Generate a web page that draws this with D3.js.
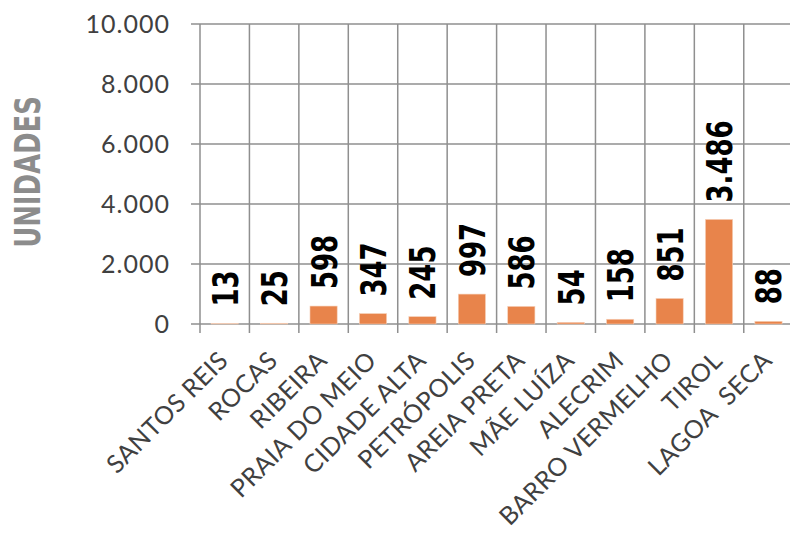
<!DOCTYPE html>
<html>
<head>
<meta charset="utf-8">
<script src="https://cdn.jsdelivr.net/npm/d3@7"></script>
<style>
  html, body { margin: 0; padding: 0; background: #ffffff; }
  svg { display: block; }
</style>
</head>
<body>
<svg id="chart" width="790" height="534"></svg>
<script>
const categories = ["SANTOS REIS", "ROCAS", "RIBEIRA", "PRAIA DO MEIO", "CIDADE ALTA", "PETRÓPOLIS",
                    "AREIA PRETA", "MÃE LUÍZA", "ALECRIM", "BARRO VERMELHO", "TIROL", "LAGOA  SECA"];
const values = [13, 25, 598, 347, 245, 997, 586, 54, 158, 851, 3486, 88];
const yTicks = [0, 2000, 4000, 6000, 8000, 10000];
const yTitle = "UNIDADES";

const svg = d3.select("#chart");
const plotLeft = 200, plotRight = 793.2, plotTop = 24, plotBottom = 324;

const x = d3.scaleBand().domain(categories).range([plotLeft, plotRight]).paddingInner(0).paddingOuter(0);
const y = d3.scaleLinear().domain([0, 10000]).range([plotBottom, plotTop]);

const loc = d3.formatLocale({decimal: ",", thousands: ".", grouping: [3], currency: ["R$", ""]});
const fmt = loc.format(",d");

const gridColor = "#8f8f8f";
const gridW = 1.5;
const condensedFont = "'Liberation Sans Narrow', 'DejaVu Sans Condensed', sans-serif";

// horizontal gridlines + left ticks
svg.append("g").selectAll("line").data(yTicks).join("line")
  .attr("x1", plotLeft - 9).attr("x2", plotRight)
  .attr("y1", d => y(d)).attr("y2", d => y(d))
  .attr("stroke", gridColor).attr("stroke-width", gridW);

// vertical gridlines at band boundaries (extend below as ticks)
const bounds = categories.map(c => x(c));
svg.append("g").selectAll("line").data(bounds).join("line")
  .attr("x1", d => d).attr("x2", d => d)
  .attr("y1", plotTop).attr("y2", plotBottom + 9)
  .attr("stroke", gridColor).attr("stroke-width", gridW);

// bars
const bw = x.bandwidth() * 0.55;
svg.append("g").selectAll("rect").data(values).join("rect")
  .attr("x", (d, i) => x(categories[i]) + (x.bandwidth() - bw) / 2)
  .attr("width", bw)
  .attr("y", d => y(d))
  .attr("height", d => plotBottom - y(d))
  .attr("fill", "#e8844b")
  .attr("stroke", "#f6d0b8").attr("stroke-width", 0.6);

// value labels
svg.append("g").selectAll("text").data(values).join("text")
  .attr("transform", (d, i) => `translate(${x(categories[i]) + x.bandwidth() / 2},${y(d) - 17}) rotate(-90) scale(0.8,1)`)
  .attr("text-anchor", "start")
  .attr("dy", "0.36em")
  .style("font-family", condensedFont)
  .style("font-stretch", "condensed")
  .style("font-weight", "bold")
  .style("font-size", "36px")
  .attr("fill", "#000000")
  .text(d => fmt(d));

// y tick labels
svg.append("g").selectAll("text").data(yTicks).join("text")
  .attr("x", 170).attr("y", d => y(d))
  .attr("dy", "0.36em")
  .attr("text-anchor", "end")
  .style("font-family", "Lato, sans-serif")
  .style("font-size", "25px")
  .style("letter-spacing", "1px")
  .attr("fill", "#404040")
  .text(d => fmt(d));

// x category labels
svg.append("g").selectAll("text").data(categories).join("text")
  .attr("transform", d => `translate(${x(d) + x.bandwidth() / 2 + 5},${362}) rotate(-45)`)
  .attr("text-anchor", "end")
  .style("font-family", "Lato, sans-serif")
  .style("font-size", "25px")
  .style("letter-spacing", "0.5px")
  .style("white-space", "pre")
  .attr("fill", "#404040")
  .text(d => d);

// y axis title
svg.append("text")
  .attr("transform", "translate(27.5,172) rotate(-90) scale(0.8,1)")
  .attr("text-anchor", "middle")
  .attr("dy", "0.36em")
  .style("font-family", condensedFont)
  .style("font-stretch", "condensed")
  .style("font-weight", "bold")
  .style("font-size", "36px")
  .attr("fill", "#8c8c8c")
  .text(yTitle);
</script>
</body>
</html>
